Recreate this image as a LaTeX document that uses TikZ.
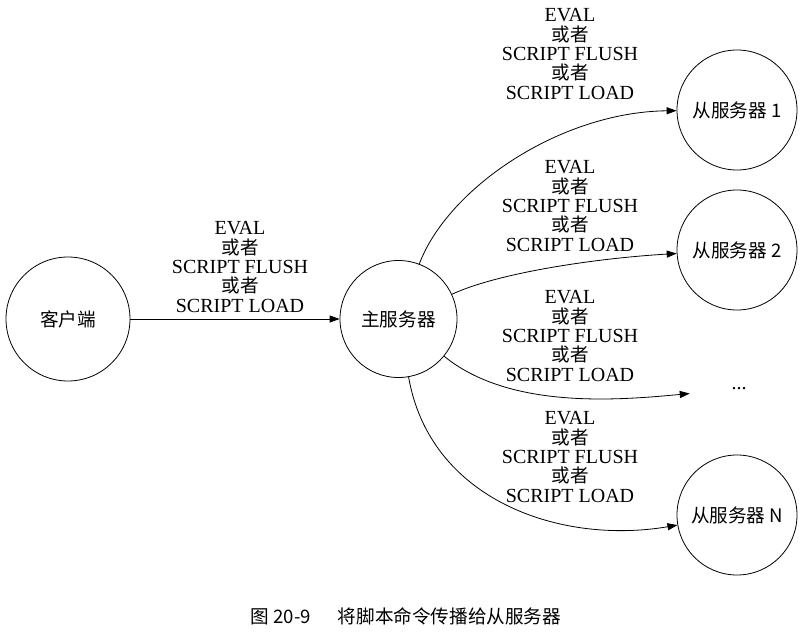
\documentclass[tikz,border=0pt]{standalone}
\usepackage{fontspec}
\setmainfont{Liberation Serif}
\newfontfamily\cjk{Noto Sans CJK SC}[Scale=0.93]
\usetikzlibrary{arrows.meta}
\begin{document}
\begin{tikzpicture}[x=0.75pt,y=-0.75pt,
  every node/.style={font=\fontsize{15}{14.6}\selectfont},
  srv/.style={draw,circle,line width=0.6pt,inner sep=0pt},
  lbl/.style={align=center,inner sep=0pt},
  edge/.style={draw,line width=0.6pt,-{Triangle[length=7.5pt,width=5.3pt]}}]
\useasboundingbox (0,0) rectangle (807,635);
\node[srv,minimum size=124*0.75pt] (client) at (68,319) {\cjk{客户端}};
\node[srv,minimum size=117*0.75pt] (master) at (398.5,319) {\cjk{主服务器}};
\node[srv,minimum size=120*0.75pt] (s1) at (737,110) {\cjk{从服务器} 1};
\node[srv,minimum size=120*0.75pt] (s2) at (737,250) {\cjk{从服务器} 2};
\node[inner sep=0pt,minimum width=98*0.75pt,minimum height=20*0.75pt] (dots) at (739,389) {...};
\node[srv,minimum size=120*0.75pt] (sn) at (737,515) {\cjk{从服务器} N};

\newcommand{\cmdlabel}{EVAL\\\cjk{或者}\\SCRIPT FLUSH\\\cjk{或者}\\SCRIPT LOAD}
\node[lbl] (l0) at (240,267) {\cmdlabel};
\node[lbl] (l1) at (570,54) {\cmdlabel};
\node[lbl] (l2) at (570,206) {\cmdlabel};
\node[lbl] (l3) at (570,336) {\cmdlabel};
\node[lbl] (l4) at (570,457) {\cmdlabel};

\path[edge] (client) -- (master);
\path[edge] (master) .. controls (448,188) and (560,112) .. (s1);
\path[edge] (master) .. controls (500,272) and (600,258) .. (s2);
\path[edge] (master) .. controls (510,410) and (620,400) .. (dots);
\path[edge] (master) .. controls (430,500) and (560,545) .. (sn);

\node[inner sep=0pt] (cap) at (406,616) {\cjk{图} 20-9\quad\ \ \cjk{将脚本命令传播给从服务器}};
\end{tikzpicture}
\end{document}
